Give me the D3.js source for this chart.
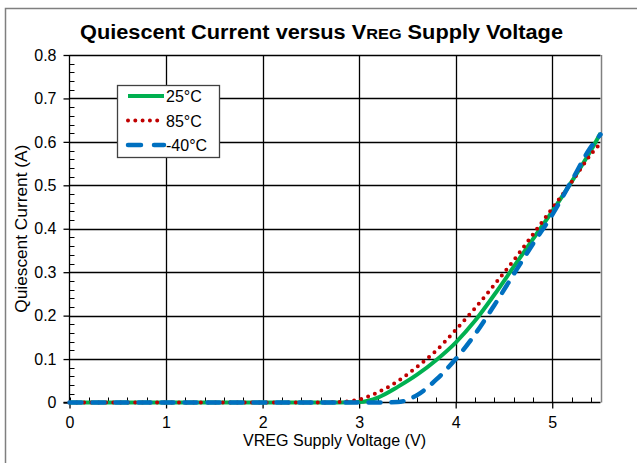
<!DOCTYPE html>
<html>
<head>
<meta charset="utf-8">
<script src="https://cdn.jsdelivr.net/npm/d3@7"></script>
<style>
  body { margin: 0; background: #fff; }
  text { font-family: "Liberation Sans", Arial, sans-serif; fill: #000; }
</style>
</head>
<body>
<div id="chart"></div>
<script>
/* data */
var volts  = [0, 0.5, 1, 1.5, 2, 2.5, 2.8, 3.0, 3.2, 3.4, 3.6, 3.8, 4.0, 4.2, 4.4, 4.6, 4.8, 5.0, 5.2, 5.4, 5.5];
var amps25 = [0, 0, 0, 0, 0, 0, 0, 0.001, 0.012, 0.036, 0.064, 0.098, 0.138, 0.188, 0.248, 0.312, 0.376, 0.440, 0.508, 0.580, 0.620];
var amps85 = [0, 0, 0, 0, 0, 0, 0.001, 0.007, 0.024, 0.049, 0.082, 0.120, 0.167, 0.217, 0.271, 0.327, 0.387, 0.447, 0.507, 0.571, 0.597];
var ampsM40 = [0, 0, 0, 0, 0, 0, 0, 0, 0, 0.001, 0.017, 0.053, 0.100, 0.157, 0.224, 0.295, 0.365, 0.432, 0.510, 0.588, 0.617];
var seriesNames = ['25°C', '85°C', '-40°C'];
var xTicks = [0, 1, 2, 3, 4, 5];
var yTicks = [0, 0.1, 0.2, 0.3, 0.4, 0.5, 0.6, 0.7, 0.8];

/* setup */
var width = 637, height = 463;
var plot = { left: 69.5, right: 600.5, top: 55, bottom: 402.5 };

var x = d3.scaleLinear().domain([0, 5.5]).range([plot.left, plot.right]);
var y = d3.scaleLinear().domain([0, 0.8]).range([plot.bottom, plot.top]);

var svg = d3.select('#chart').append('svg')
    .attr('width', width)
    .attr('height', height);

// outer chart frame (runs off the picture on the right and bottom)
svg.append('rect')
    .attr('x', 5.5).attr('y', 8.5)
    .attr('width', 700).attr('height', 500)
    .attr('fill', 'none').attr('stroke', '#7f7f7f').attr('stroke-width', 1.5);

// gridlines
svg.append('g').selectAll('line.h')
    .data(yTicks.slice(1))
  .enter().append('line')
    .attr('x1', plot.left).attr('x2', plot.right)
    .attr('y1', function (d) { return Math.round(y(d)) + 0.5; })
    .attr('y2', function (d) { return Math.round(y(d)) + 0.5; })
    .attr('stroke', '#000').attr('stroke-width', 1.3);

svg.append('g').selectAll('line.v')
    .data(xTicks.slice(1))
  .enter().append('line')
    .attr('y1', plot.top).attr('y2', plot.bottom)
    .attr('x1', function (d) { return Math.round(x(d)) + 0.5; })
    .attr('x2', function (d) { return Math.round(x(d)) + 0.5; })
    .attr('stroke', '#000').attr('stroke-width', 1.3);

// right border of plot area
svg.append('line')
    .attr('x1', plot.right + 1).attr('x2', plot.right + 1)
    .attr('y1', plot.top).attr('y2', plot.bottom)
    .attr('stroke', '#808080').attr('stroke-width', 1.5);

// axes: major ticks outward, minor ticks inward
var yAxis = d3.axisLeft(y).tickValues(yTicks).tickSize(6).tickPadding(7)
    .tickFormat(function (d) { return d === 0 ? '0' : d3.format('.1f')(d); });
var gy = svg.append('g').attr('transform', 'translate(' + plot.left + ',0)').call(yAxis);
gy.select('.domain').remove();
gy.append('line').attr('y1', plot.top).attr('y2', plot.bottom).attr('stroke', '#000').attr('stroke-width', 1.3);
gy.selectAll('text').style('font-size', '16px').attr('font-family', null);

var yMinor = d3.range(0, 0.8001, 0.02);
gy.selectAll('line.minor').data(yMinor).enter().append('line')
    .attr('class', 'minor')
    .attr('x1', 0).attr('x2', 5)
    .attr('y1', function (d) { return Math.round(y(d)) + 0.5; })
    .attr('y2', function (d) { return Math.round(y(d)) + 0.5; })
    .attr('stroke', '#000');

var xAxis = d3.axisBottom(x).tickValues(xTicks).tickSize(6).tickPadding(8).tickFormat(d3.format('d'));
var gx = svg.append('g').attr('transform', 'translate(0,' + plot.bottom + ')').call(xAxis);
gx.select('.domain').remove();
gx.append('line').attr('x1', plot.left - 6).attr('x2', plot.right).attr('stroke', '#000').attr('stroke-width', 1.5);
gx.selectAll('text').style('font-size', '16px').attr('font-family', null);

var xMinor = d3.range(0, 5.5001, 0.2);
gx.selectAll('line.minor').data(xMinor).enter().append('line')
    .attr('class', 'minor')
    .attr('y1', 0).attr('y2', -5)
    .attr('x1', function (d) { return Math.round(x(d)) + 0.5; })
    .attr('x2', function (d) { return Math.round(x(d)) + 0.5; })
    .attr('stroke', '#000');

gx.selectAll('.tick line').attr('stroke-width', 1.3);
gy.selectAll('.tick line').attr('stroke-width', 1.3);

// series
var styles = [
    { color: '#00b050', width: 4, dash: null, cap: 'butt' },
    { color: '#c00000', width: 4, dash: '0,7.3', cap: 'round' },
    { color: '#0070c0', width: 4.5, dash: '12,11', cap: 'round' }
];
var allAmps = [amps25, amps85, ampsM40];

var line = d3.line()
    .x(function (d) { return x(d[0]); })
    .y(function (d) { return y(d[1]); })
    .curve(d3.curveMonotoneX);

allAmps.forEach(function (amps, i) {
    var pts = volts.map(function (v, j) { return [v, amps[j]]; });
    svg.append('path')
        .datum(pts)
        .attr('d', line)
        .attr('fill', 'none')
        .attr('stroke', styles[i].color)
        .attr('stroke-width', styles[i].width)
        .attr('stroke-linecap', styles[i].cap)
        .attr('stroke-dasharray', styles[i].dash);
});

// legend
var legend = svg.append('g').attr('transform', 'translate(117,85)');
legend.append('rect')
    .attr('x', 0.5).attr('y', 0.5).attr('width', 102).attr('height', 72)
    .attr('fill', '#fff').attr('stroke', '#404040').attr('stroke-width', 1.3);
seriesNames.forEach(function (name, i) {
    var ly = 11 + i * 24.5;
    legend.append('line')
        .attr('x1', 11).attr('x2', 47).attr('y1', ly).attr('y2', ly)
        .attr('stroke', styles[i].color)
        .attr('stroke-width', styles[i].width)
        .attr('stroke-linecap', styles[i].cap)
        .attr('stroke-dasharray', i === 2 ? '13,13' : styles[i].dash);
    legend.append('text')
        .attr('x', 49).attr('y', ly + 6)
        .style('font-size', '16px')
        .text(name);
});

// title
var title = svg.append('text')
    .attr('x', 321.5).attr('y', 39)
    .attr('text-anchor', 'middle')
    .attr('textLength', 483).attr('lengthAdjust', 'spacingAndGlyphs')
    .style('font-size', '20px').style('font-weight', 'bold');
title.append('tspan').text('Quiescent Current versus V');
title.append('tspan').style('font-size', '15px').text('REG');
title.append('tspan').text(' Supply Voltage');

// axis titles
svg.append('text')
    .attr('x', 334.5).attr('y', 446)
    .attr('text-anchor', 'middle')
    .attr('textLength', 183).attr('lengthAdjust', 'spacingAndGlyphs')
    .style('font-size', '16px')
    .text('VREG Supply Voltage (V)');

svg.append('text')
    .attr('transform', 'translate(27,' + ((plot.top + plot.bottom) / 2) + ') rotate(-90)')
    .attr('text-anchor', 'middle')
    .attr('textLength', 168).attr('lengthAdjust', 'spacingAndGlyphs')
    .style('font-size', '16px')
    .text('Quiescent Current (A)');
</script>
</body>
</html>
